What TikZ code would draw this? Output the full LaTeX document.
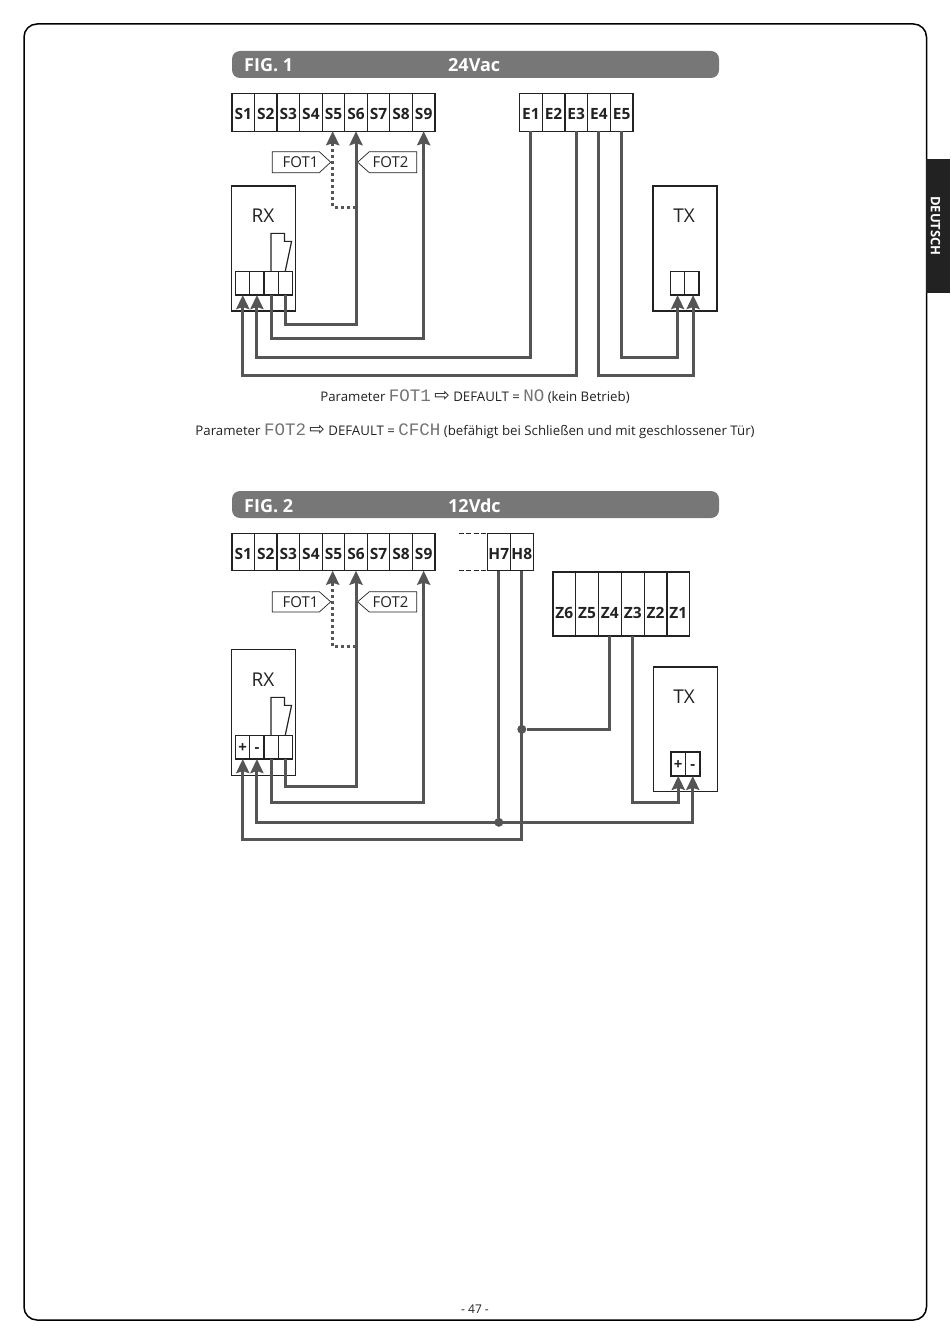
\documentclass[tikz,border=0pt]{standalone}
\usepackage{fontspec}
\setmainfont{Open Sans}
\newfontfamily\segfont{Liberation Mono}
\newfontfamily\symfont{DejaVu Sans}
\usetikzlibrary{arrows.meta}
\definecolor{wiregray}{HTML}{555555}
\definecolor{bargray}{HTML}{777777}
\definecolor{inkgray}{HTML}{222222}
\tikzset{
  termcell/.style={draw=inkgray,line width=1.2pt,inner sep=0pt,outer sep=0pt,minimum width=22.6pt,minimum height=37.4pt,text height=25.7pt,text depth=11.7pt,text=inkgray,font=\bfseries\fontsize{15.5}{18}\selectfont},
  zonecell/.style={termcell,minimum width=22.8pt,minimum height=64pt,text height=46.5pt,text depth=17.5pt},
  smallcell/.style={termcell,minimum width=14.2pt,minimum height=23.7pt,text height=17.2pt,text depth=6.5pt,font=\bfseries\fontsize{15}{18}\selectfont},
  unitbox/.style={draw=inkgray,line width=1.2pt,minimum width=64pt,minimum height=125pt,inner sep=0pt,outer sep=0pt},
  unitname/.style={text=inkgray,inner sep=0pt,font=\fontsize{19}{22}\selectfont},
  figbar/.style={fill=bargray,rounded corners=8pt,minimum width=487pt,minimum height=27pt,inner sep=0pt},
  bartext/.style={text=white,inner sep=0pt,anchor=base west,font=\bfseries\fontsize{18}{22}\selectfont},
  fottag/.style={draw=inkgray,line width=.7pt,fill=white},
  fotname/.style={inner sep=0pt,text=inkgray,font=\fontsize{15}{18}\selectfont},
  wire/.style={draw=wiregray,line width=3pt,>={Stealth[length=14pt,width=13pt,inset=2pt]}},
  dotwire/.style={wire,dash pattern=on 3pt off 3pt},
  wiredot/.style={circle,fill=wiregray,minimum size=9pt,inner sep=0pt},
  noteline/.style={text=inkgray,inner sep=0pt,anchor=base,font=\fontsize{13.25}{16}\selectfont}
}
\newcommand{\segtext}[1]{{\segfont\fontsize{17.5}{16}\selectfont\textcolor{black!55}{#1}}}
\newcommand{\noterarrow}{{\symfont\fontsize{18.5}{16}\selectfont\symbol{"21E8}}}
\begin{document}
\begin{tikzpicture}[x=1pt,y=-1pt]
  \useasboundingbox (0,0) rectangle (950,1343);
  % page frame and language tab
  \draw [line width=1.5pt,rounded corners=13pt] (24,24) rectangle (926.5,1320);
  \fill [inkgray] (926,159) rectangle (950,293);
  \node [rotate=-90,text=white,inner sep=0pt,font=\bfseries\fontsize{13}{14}\selectfont] (tab) at (935.5,226) {DEUTSCH};
  \node [inner sep=0pt,text=inkgray,font=\fontsize{12}{14}\selectfont] (pagenum) at (475,1309) {- 47 -};

  % FIG. 1
  \node [figbar] (bar1) at (475.5,64.5) {};
  \node [bartext] (fig1) at (244,72) {FIG. 1};
  \node [bartext] (volt1) at (448,72) {24Vac};
  \foreach \i in {1,...,9}
    \node [termcell] (s\i) at ({232+22.55*(\i-.5)},112.5) {S\i};
  \foreach \i in {1,...,5}
    \node [termcell] (e\i) at ({519.5+22.7*(\i-.5)},112.5) {E\i};
  \node [unitbox] (rx1) at (263.7,248.5) {};
  \node [unitbox] (tx1) at (685,248.5) {};
  \node [unitname] (rxname1) at (263,216) {RX};
  \node [unitname] (txname1) at (684,216) {TX};
  \foreach \i in {1,...,4}
    \node [smallcell] (r\i) at ({235.7+14.15*(\i-.5)},283.2) {};
  \foreach \i in {1,2}
    \node [smallcell] (t\i) at ({670.5+14.2*(\i-.5)},283.2) {};
  \draw [draw=inkgray,line width=1.2pt] (r3.north) -- ++(0,-38) -- ++(13.5,0) -- ++(0,8) -- ++(7,0) -- (r4.north);
  \coordinate (dotend1) at (356,207);
  \draw [dotwire,->] (dotend1) -| ([xshift=-.8pt]s5.south);
  \draw [fottag] (272.3,151.7) -- (319.3,151.7) -- (330.7,162.2) -- (319.3,172.7) -- (272.3,172.7) -- cycle;
  \draw [fottag] (416.7,151.7) -- (369.3,151.7) -- (357.6,162.2) -- (369.3,172.7) -- (416.7,172.7) -- cycle;
  \node [fotname] (fot1a) at (300.5,162.5) {FOT1};
  \node [fotname] (fot2a) at (390.5,162.5) {FOT2};
  \draw [wire,->] (r4.south) -- ++(0,29.3) -| (s6.south);
  \draw [wire,->] (r3.south) -- ++(0,43.3) -| (s9.south);
  \draw [wire,->] (e1.south) -- ++(0,226.7) -| (r2.south);
  \draw [wire,->] (e3.south) -- ++(0,244.3) -| (r1.south);
  \draw [wire,->] (e5.south) -- ++(0,226.7) -| (t1.south);
  \draw [wire,->] (e4.south) -- ++(0,244.3) -| ([xshift=1.3pt]t2.south);

  % parameter notes
  \node [noteline] (note1) at (475,401) {Parameter \segtext{FOT1} \noterarrow{} DEFAULT = \segtext{NO} (kein Betrieb)};
  \node [noteline] (note2) at (475,435) {Parameter \segtext{FOT2} \noterarrow{} DEFAULT = \segtext{CFCH} (befähigt bei Schließen und mit geschlossener Tür)};

  % FIG. 2
  \node [figbar] (bar2) at (475.5,504.5) {};
  \node [bartext] (fig2) at (244,512) {FIG. 2};
  \node [bartext] (volt2) at (448,512) {12Vdc};
  \foreach \i in {1,...,9}
    \node [termcell] (ss\i) at ({232+22.55*(\i-.5)},552) {S\i};
  \foreach \i in {7,8}
    \node [termcell,minimum width=23pt] (h\i) at ({487.3+23*(\i-6.5)},552) {H\i};
  \foreach \i in {1,...,6}
    \node [zonecell] (z\i) at ({689.7-22.8*(\i-.5)},604) {Z\i};
  \coordinate (gaptop) at (458.5,533.3);
  \coordinate (gapbot) at (458.5,570.7);
  \draw [draw=inkgray,line width=1pt,dash pattern=on 5pt off 2.5pt] (gaptop) -- (h7.north west);
  \draw [draw=inkgray,line width=1pt,dash pattern=on 5pt off 2.5pt] (gapbot) -- (h7.south west);
  \node [unitbox,minimum height=126pt] (rx2) at (263.7,712.7) {};
  \node [unitbox,minimum height=124.7pt] (tx2) at (685.3,729.3) {};
  \node [unitname] (rxname2) at (263,680) {RX};
  \node [unitname] (txname2) at (684,697) {TX};
  \foreach \i/\sign in {1/+,2/-,3/,4/}
    \node [smallcell] (rr\i) at ({235.7+14.15*(\i-.5)},747.2) {\sign};
  \foreach \i/\sign in {1/+,2/-}
    \node [smallcell,line width=1.5pt] (tt\i) at ({671+14.5*(\i-.5)},764) {\sign};
  \draw [draw=inkgray,line width=1.2pt] (rr3.north) -- ++(0,-38) -- ++(13.5,0) -- ++(0,8) -- ++(7,0) -- (rr4.north);
  \coordinate (dotend2) at (356,646.7);
  \draw [dotwire,->] (dotend2) -| ([xshift=-.8pt]ss5.south);
  \draw [fottag] (272.3,591.7) -- (319.3,591.7) -- (330.7,601.8) -- (319.3,612) -- (272.3,612) -- cycle;
  \draw [fottag] (416.7,591.7) -- (369.3,591.7) -- (357.6,601.8) -- (369.3,612) -- (416.7,612) -- cycle;
  \node [fotname] (fot1b) at (300.5,602) {FOT1};
  \node [fotname] (fot2b) at (390.5,602) {FOT2};
  \draw [wire,->] (rr4.south) -- ++(0,27.7) -| (ss6.south);
  \draw [wire,->] (rr3.south) -- ++(0,43.7) -| (ss9.south);
  \node [wiredot] (jointh7) at (498.8,822.3) {};
  \node [wiredot] (jointh8) at (521.8,729.3) {};
  \draw [wire] (h7.south) -- (jointh7);
  \draw [wire] (z4.south) |- (jointh8);
  \draw [wire,<->] (rr2.south) -- ++(0,63.3) -| (tt2.south);
  \draw [wire,->] (h8.south) -- ++(0,268.6) -| (rr1.south);
  \draw [wire,->] (z3.south) -- ++(0,166.7) -| (tt1.south);
\end{tikzpicture}
\end{document}
